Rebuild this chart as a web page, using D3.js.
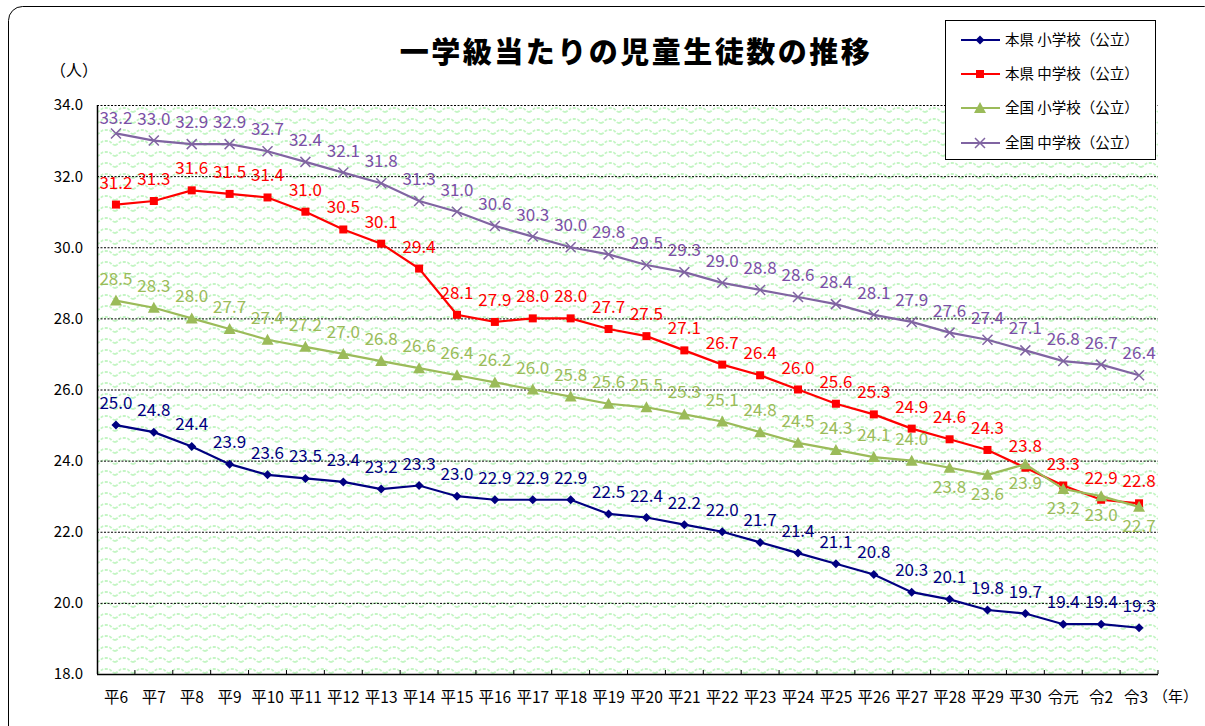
<!DOCTYPE html>
<html><head><meta charset="utf-8">
<script src="https://cdn.jsdelivr.net/npm/d3@7"></script>
<style>
body{margin:0;background:#fff;}
text{font-family:"Noto Sans CJK JP","Noto Sans",sans-serif;}
</style></head>
<body><svg id="c" width="1205" height="726"></svg>
<script>
const categories = ["平6","平7","平8","平9","平10","平11","平12","平13","平14","平15","平16","平17","平18","平19","平20","平21","平22","平23","平24","平25","平26","平27","平28","平29","平30","令元","令2","令3"];
const prefElem = [25.0,24.8,24.4,23.9,23.6,23.5,23.4,23.2,23.3,23.0,22.9,22.9,22.9,22.5,22.4,22.2,22.0,21.7,21.4,21.1,20.8,20.3,20.1,19.8,19.7,19.4,19.4,19.3];
const prefJunior = [31.2,31.3,31.6,31.5,31.4,31.0,30.5,30.1,29.4,28.1,27.9,28.0,28.0,27.7,27.5,27.1,26.7,26.4,26.0,25.6,25.3,24.9,24.6,24.3,23.8,23.3,22.9,22.8];
const natElem = [28.5,28.3,28.0,27.7,27.4,27.2,27.0,26.8,26.6,26.4,26.2,26.0,25.8,25.6,25.5,25.3,25.1,24.8,24.5,24.3,24.1,24.0,23.8,23.6,23.9,23.2,23.0,22.7];
const natJunior = [33.2,33.0,32.9,32.9,32.7,32.4,32.1,31.8,31.3,31.0,30.6,30.3,30.0,29.8,29.5,29.3,29.0,28.8,28.6,28.4,28.1,27.9,27.6,27.4,27.1,26.8,26.7,26.4];
const seriesNames = ["本県 小学校（公立）","本県 中学校（公立）","全国 小学校（公立）","全国 中学校（公立）"];
const yTicks = [18.0,20.0,22.0,24.0,26.0,28.0,30.0,32.0,34.0];
// labels placed below the point (index lists) for 全国 小学校
const natElemBelow = [22,23,24,25,26,27];

const series = [
  {name:seriesNames[0], values:prefElem, color:"#000080", text:"#000080", marker:"diamond", below:[]},
  {name:seriesNames[1], values:prefJunior, color:"#ff0000", text:"#ff0000", marker:"square", below:[]},
  {name:seriesNames[2], values:natElem, color:"#9bbb59", text:"#9bbb59", marker:"triangle", below:natElemBelow},
  {name:seriesNames[3], values:natJunior, color:"#8064a2", text:"#7a4fa6", marker:"cross", below:[]}
];

const svg = d3.select("#c");
const L=97, R=1158, T=105, B=674;
const x = d3.scaleBand().domain(categories).range([L,R]).padding(0);
const y = d3.scaleLinear().domain([18,34]).range([B,T]);

const defs = svg.append("defs");
const pat = defs.append("pattern").attr("id","wave").attr("patternUnits","userSpaceOnUse")
  .attr("width",18).attr("height",11).attr("x",L).attr("y",T);
pat.append("path").attr("d","M0,7 C3,7 4,3 7,3 L11,3 C14,3 15,7 18,7")
  .attr("fill","none").attr("stroke","#c4f5c4").attr("stroke-width",1.8).attr("stroke-dasharray","3,1.5");

// outer frame
svg.append("rect").attr("x",8.5).attr("y",6.5).attr("width",1210).attr("height",740).attr("rx",14)
  .attr("fill","none").attr("stroke","#000").attr("stroke-width",1);

// plot background
svg.append("rect").attr("x",L).attr("y",T).attr("width",R-L).attr("height",B-T).attr("fill","url(#wave)");

// gridlines
svg.append("g").selectAll("line").data(yTicks.filter(d=>d>18)).join("line")
  .attr("x1",L).attr("x2",R).attr("y1",d=>y(d)+0.5).attr("y2",d=>y(d)+0.5)
  .attr("stroke","#000").attr("stroke-width",1).attr("stroke-dasharray","2,1.5");

// y axis labels
svg.append("g").selectAll("text").data(yTicks).join("text")
  .attr("x",83).attr("y",d=>y(d)).attr("dy","0.36em").attr("text-anchor","end")
  .attr("font-size",15).attr("fill","#000").text(d=>d.toFixed(1));
svg.append("text").attr("x",74).attr("y",70).attr("dy","0.36em").attr("text-anchor","middle").attr("font-size",16).text("（人）");

// axes lines
svg.append("line").attr("x1",L+0.5).attr("x2",L+0.5).attr("y1",T).attr("y2",B).attr("stroke","#000").attr("stroke-width",1.5);
svg.append("line").attr("x1",L).attr("x2",R).attr("y1",B+0.5).attr("y2",B+0.5).attr("stroke","#000").attr("stroke-width",1.5);
const bounds = categories.map((c,i)=>x(c)+x.bandwidth());
svg.append("g").selectAll("line").data(bounds).join("line")
  .attr("x1",d=>d).attr("x2",d=>d).attr("y1",B).attr("y2",B-4).attr("stroke","#000").attr("stroke-width",1);

// x labels
svg.append("g").selectAll("text").data(categories).join("text")
  .attr("x",d=>x(d)+x.bandwidth()/2 - (d==="令3"?3:0)).attr("y",697).attr("dy","0.36em").attr("text-anchor","middle")
  .attr("font-size",15.5).attr("fill","#000").text(d=>d);
svg.append("text").attr("x",1153).attr("y",697).attr("dy","0.36em").attr("text-anchor","start").attr("font-size",15).text("（年）");

// title
svg.append("text").attr("x",636).attr("y",53).attr("dy","0.36em").attr("text-anchor","middle")
  .attr("font-size",29).attr("font-weight",900).attr("letter-spacing",2.5).text("一学級当たりの児童生徒数の推移");

function drawMarker(g, type, cx, cy, color){
  if(type==="diamond"){
    g.append("path").attr("d",`M${cx},${cy-4.5}L${cx+4.5},${cy}L${cx},${cy+4.5}L${cx-4.5},${cy}Z`).attr("fill",color);
  } else if(type==="square"){
    g.append("rect").attr("x",cx-4).attr("y",cy-4).attr("width",8).attr("height",8).attr("fill",color);
  } else if(type==="triangle"){
    g.append("path").attr("d",`M${cx},${cy-6}L${cx+6},${cy+5}L${cx-6},${cy+5}Z`).attr("fill",color);
  } else {
    g.append("path").attr("d",`M${cx-5},${cy-5}L${cx+5},${cy+5}M${cx+5},${cy-5}L${cx-5},${cy+5}`).attr("stroke",color).attr("stroke-width",1.5);
  }
}

const line = d3.line().x((d,i)=>x(categories[i])+x.bandwidth()/2).y(d=>y(d));
series.forEach(s=>{
  const g = svg.append("g");
  g.append("path").datum(s.values).attr("d",line).attr("fill","none").attr("stroke",s.color).attr("stroke-width",2.2);
  s.values.forEach((v,i)=>drawMarker(g,s.marker,x(categories[i])+x.bandwidth()/2,y(v),s.color));
});
// data labels
series.forEach(s=>{
  svg.append("g").selectAll("text").data(s.values).join("text")
    .attr("x",(d,i)=>x(categories[i])+x.bandwidth()/2)
    .attr("y",(d,i)=>{ const py=y(d); return s.below.includes(i)? py+25 : Math.max(py-16, T+19); })
    .attr("text-anchor","middle").attr("font-size",17).attr("fill",s.text).text(d=>d.toFixed(1));
});

// legend
const lg = svg.append("g");
lg.append("rect").attr("x",945.5).attr("y",20.5).attr("width",210).attr("height",139).attr("fill","#fff").attr("stroke","#000").attr("stroke-width",1);
const ly = [40,74,108,143];
series.forEach((s,i)=>{
  lg.append("line").attr("x1",961).attr("x2",1000).attr("y1",ly[i]).attr("y2",ly[i]).attr("stroke",s.color).attr("stroke-width",2.2);
  drawMarker(lg,s.marker,980,ly[i],s.color);
  lg.append("text").attr("x",1005).attr("y",ly[i]).attr("dy","0.36em").attr("font-size",14.5).attr("fill","#000").text(s.name);
});
</script></body></html>
